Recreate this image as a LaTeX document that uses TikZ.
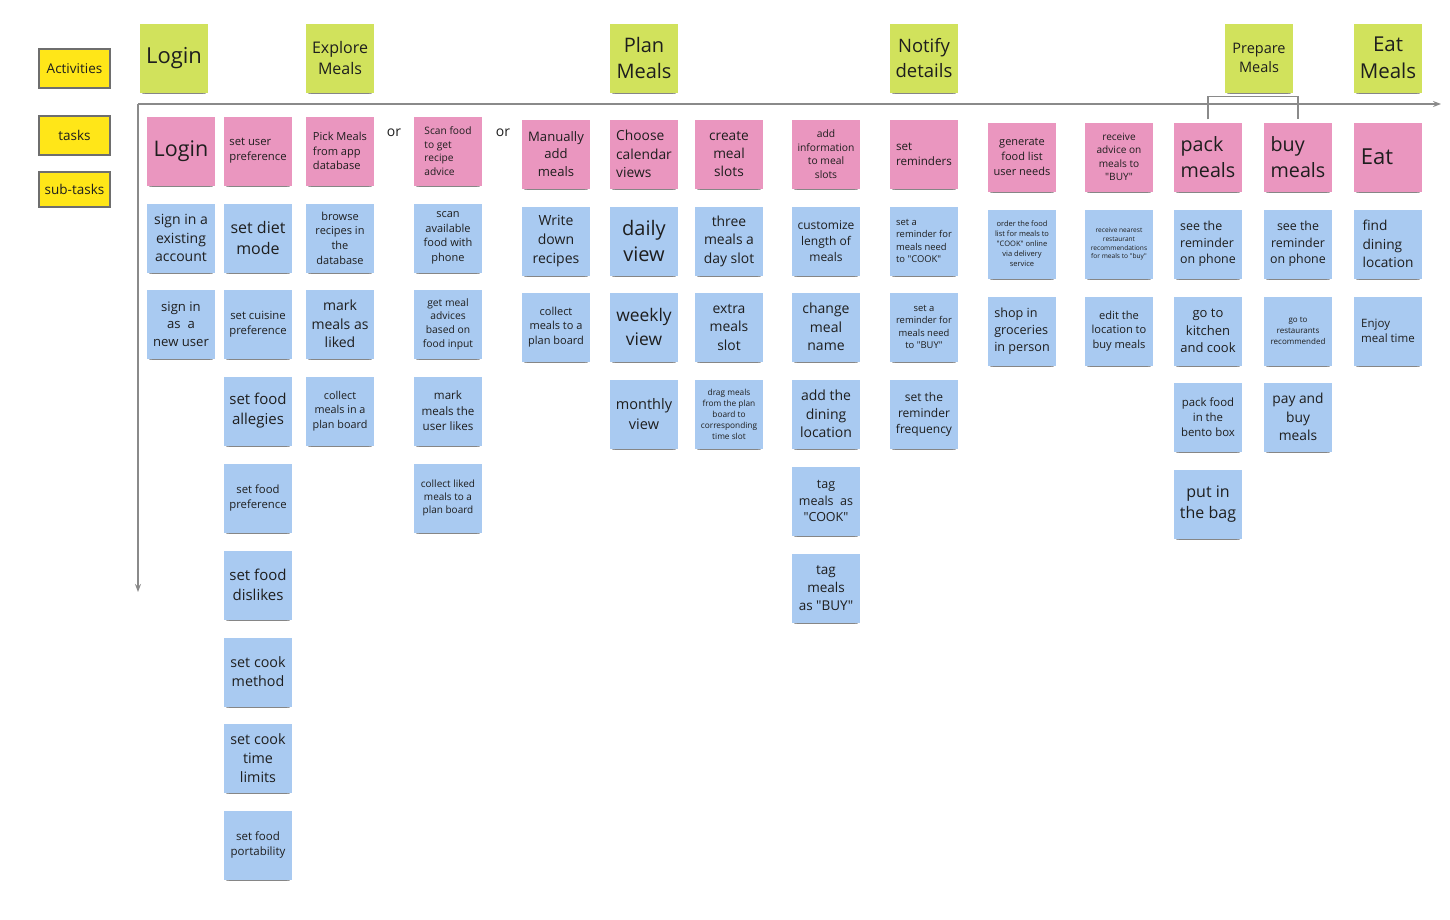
\documentclass[tikz,border=0pt]{standalone}
\usepackage{fontspec}
\setmainfont{Open Sans}[Ligatures=TeXOff]
\usetikzlibrary{shadows,arrows.meta}
\definecolor{actgreen}{HTML}{D1E25C}
\definecolor{tskpink}{HTML}{EA96BF}
\definecolor{subblue}{HTML}{A9CAF1}
\definecolor{legyellow}{HTML}{FFE618}
\definecolor{leggray}{HTML}{6E6E6E}
\definecolor{axisgray}{HTML}{8A8A8A}
\definecolor{ink}{HTML}{1E1E1E}
\tikzset{
  fs/.style={font=\fontsize{#1pt}{\fpeval{1.33*#1}pt}\selectfont},
  stickybase/.style={minimum width=68pt, minimum height=69pt, inner sep=1pt, text=ink, align=center,
    drop shadow={shadow xshift=0pt, shadow yshift=-7pt, shadow scale=0.86, opacity=0.12, fill=black},
    drop shadow={shadow xshift=0pt, shadow yshift=-5pt, shadow scale=0.9, opacity=0.2, fill=black},
    drop shadow={shadow xshift=0pt, shadow yshift=-3pt, shadow scale=0.95, opacity=0.25, fill=black}},
  act/.style={stickybase, fill=actgreen},
  tsk/.style={stickybase, fill=tskpink},
  subt/.style={stickybase, fill=subblue},
  lft/.style={align=left},
  legendbox/.style={draw=leggray, line width=1.1pt, fill=legyellow, minimum width=71pt, text=ink, fs=13.5},
  axis/.style={draw=axisgray, line width=1.3pt, -{Stealth[length=8pt,width=6pt]}},
  bracket/.style={draw=axisgray, line width=1.1pt},
  ortext/.style={text=ink, fs=14}
}
\begin{document}
\begin{tikzpicture}[x=1pt,y=-1pt]
\useasboundingbox[fill=white] (0,0) rectangle (1450,919);
% legend
\node[legendbox, minimum height=39pt] (lact) at (74.5,68.5) {Activities};
\node[legendbox, minimum height=39pt] (ltsk) at (74.5,135.5) {tasks};
\node[legendbox, minimum height=35pt] (lsub) at (74.5,189.5) {sub-tasks};
% axes
\coordinate (origin) at (138,104);
\coordinate (xend) at (1441,104);
\coordinate (yend) at (138,592);
\draw[axis] (origin) -- (xend);
\draw[axis] (origin) -- (yend);
% activities
\node[act, fs=22] (a1) at (174,58) {Login};
\node[act, fs=16] (a2) at (340,58) {Explore\\Meals};
\node[act, fs=20] (a3) at (644,58) {Plan\\Meals};
\node[act, fs=18.5] (a4) at (924,58) {Notify\\details};
\node[act, fs=14.5] (a5) at (1259,58) {Prepare\\Meals};
\node[act, fs=20.5] (a6) at (1388,58) {Eat\\Meals};
% tasks
\node[tsk, fs=21.5] (t1) at (181,151) {Login};
\node[tsk, lft, fs=11.3] (t2) at (258,151) {set user\\preference};
\node[tsk, lft, fs=11.1] (t3) at (340,151) {Pick Meals\\from app\\database};
\node[ortext] (or1) at (394,133) {or};
\node[tsk, lft, fs=10.2] (t4) at (448,151) {Scan food\\to get\\recipe\\advice};
\node[ortext] (or2) at (503,133) {or};
\node[tsk, fs=13.1] (t5) at (556,154) {Manually\\add\\meals};
\node[tsk, lft, fs=13.8] (t6) at (644,154) {Choose\\calendar\\views};
\node[tsk, fs=13.7] (t7) at (729,154) {create\\meal\\slots};
\node[tsk, fs=10.3] (t8) at (826,154) {add\\information\\to meal\\slots};
\node[tsk, lft, fs=11.6] (t9) at (924,154) {set\\reminders};
\node[tsk, fs=11] (t10) at (1022,157) {generate\\food list\\user needs};
\node[tsk, fs=10.1] (t11) at (1119,157) {receive\\advice on\\meals to\\"BUY"};
\node[tsk, lft, fs=19.7] (t12) at (1208,157) {pack\\meals};
\node[tsk, lft, fs=19.7] (t13) at (1298,157) {buy\\meals};
\node[tsk, fs=22] (t14) at (1388,157) {\hspace*{-22pt}Eat};
% bracket
\draw[bracket, shorten <=3pt, shorten >=3pt] (t12.north) -- ++(0,-26) -| (t13.north);
% sub-tasks: Login
\node[subt, fs=14] (s11) at (181,238) {sign in a\\existing\\account};
\node[subt, fs=13.1] (s12) at (181,324) {sign in\\as\ \ a\\new user};
% set user preference
\node[subt, fs=16] (s21) at (258,238) {set diet\\mode};
\node[subt, fs=11.3] (s22) at (258,324) {set cuisine\\preference};
\node[subt, fs=15] (s23) at (258,411) {set food\\allegies};
\node[subt, fs=11.3] (s24) at (258,498) {set food\\preference};
\node[subt, fs=15] (s25) at (258,585) {set food\\dislikes};
\node[subt, fs=14.3] (s26) at (258,672) {set cook\\method};
\node[subt, fs=14.3] (s27) at (258,758) {set cook\\time\\limits};
\node[subt, fs=11.5] (s28) at (258,845) {set food\\portability};
% pick meals
\node[subt, fs=11] (s31) at (340,238) {browse\\recipes in\\the\\database};
\node[subt, fs=14] (s32) at (340,324) {mark\\meals as\\liked};
\node[subt, fs=10.8] (s33) at (340,411) {collect\\meals in a\\plan board};
% scan food
\node[subt, fs=11] (s41) at (448,238) {scan\\available\\food with\\phone};
\node[subt, fs=10.3] (s42) at (448,324) {get meal\\advices\\based on\\food input};
\node[subt, fs=11.6] (s43) at (448,411) {mark\\meals the\\user likes};
\node[subt, fs=10] (s44) at (448,498) {collect liked\\meals to a\\plan board};
% manually add
\node[subt, fs=14] (s51) at (556,241) {Write\\down\\recipes};
\node[subt, fs=11] (s52) at (556,327) {collect\\meals to a\\plan board};
% calendar
\node[subt, fs=20] (s61) at (644,241) {daily\\view};
\node[subt, fs=17.4] (s62) at (644,327) {weekly\\view};
\node[subt, fs=14.5] (s63) at (644,414) {monthly\\view};
% meal slots
\node[subt, fs=13.9] (s71) at (729,241) {three\\meals a\\day slot};
\node[subt, fs=13.9] (s72) at (729,327) {extra\\meals\\slot};
\node[subt, fs=8.3] (s73) at (729,414) {drag meals\\from the plan\\board to\\corresponding\\time slot};
% add information
\node[subt, fs=12] (s81) at (826,241) {customize\\length of\\meals};
\node[subt, fs=14] (s82) at (826,327) {change\\meal\\name};
\node[subt, fs=14] (s83) at (826,414) {add the\\dining\\location};
\node[subt, fs=12.5] (s84) at (826,501) {tag\\meals\ \ as\\"COOK"};
\node[subt, fs=13.5] (s85) at (826,588) {tag\\meals\\as "BUY"};
% reminders
\node[subt, lft, fs=9.4] (s91) at (924,241) {set a\\reminder for\\meals need\\to "COOK"};
\node[subt, fs=9.4] (s92) at (924,327) {set a\\reminder for\\meals need\\to "BUY"};
\node[subt, fs=12] (s93) at (924,414) {set the\\reminder\\frequency};
% generate food list
\node[subt, fs=7.5] (s101) at (1022,244) {order the food\\list for meals to\\"COOK" online\\via delivery\\service};
\node[subt, lft, fs=12.6] (s102) at (1022,331) {shop in\\groceries\\in person};
% receive advice
\node[subt, fs=6.6] (s111) at (1119,244) {receive nearest\\restaurant\\recommendations\\for meals to "buy"};
\node[subt, fs=11.1] (s112) at (1119,331) {edit the\\location to\\buy meals};
% pack meals
\node[subt, lft, fs=12.4] (s121) at (1208,244) {see the\\reminder\\on phone};
\node[subt, fs=13] (s122) at (1208,331) {go to\\kitchen\\and cook};
\node[subt, fs=11.4] (s123) at (1208,417) {pack food\\in the\\bento box};
\node[subt, fs=16] (s124) at (1208,504) {put in\\the bag};
% buy meals
\node[subt, fs=12.4] (s131) at (1298,244) {see the\\reminder\\on phone};
\node[subt, fs=8] (s132) at (1298,331) {go to\\restaurants\\recommended};
\node[subt, fs=13.8] (s133) at (1298,417) {pay and\\buy\\meals};
% eat
\node[subt, lft, fs=13.7] (s141) at (1388,244) {find\\dining\\location};
\node[subt, lft, fs=11.5] (s142) at (1388,331) {Enjoy\\meal time};
\end{tikzpicture}
\end{document}
